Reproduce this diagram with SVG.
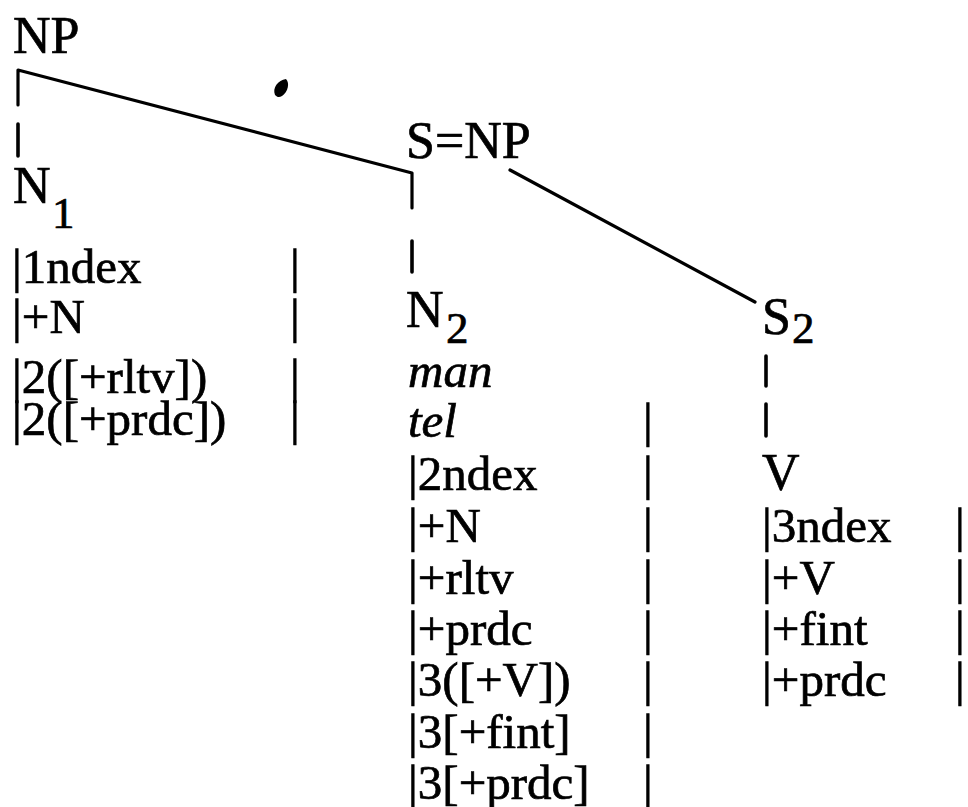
<svg xmlns="http://www.w3.org/2000/svg" width="968" height="807" viewBox="0 0 968 807">
<style>
text{font-family:"Liberation Serif","Times New Roman",serif;fill:#000;stroke:#000;stroke-width:0.7px;}
.t{font-size:49px;}
.h{font-size:52px;}
.s{font-size:45px;}
.i{font-style:italic;}
.ln{fill:none;stroke:#000;stroke-width:3.2;stroke-linecap:round;stroke-linejoin:round;}
.tk{stroke:#000;stroke-width:3.6;stroke-linecap:round;}
</style>
<rect width="968" height="807" fill="#fff"/>
<g id="connectors">
<path class="ln" d="M18,105 L18,70 L412,173 L412,208"/>
<line class="ln" x1="510" y1="170" x2="755" y2="302"/>
<line class="tk" x1="18" y1="124" x2="18" y2="156"/>
<line class="tk" x1="412" y1="241" x2="412" y2="272"/>
<line class="tk" x1="766" y1="356" x2="766" y2="386"/>
<line class="tk" x1="766" y1="404" x2="766" y2="436"/>
</g>
<path d="M275,95 C272,88 278,80 286,79 C290,83 288,92 282,96 C279,98 277,97 275,95 Z" fill="#000"/>
<g id="np">
<text class="h" x="13" y="53">NP</text>
</g>
<g id="s-np">
<text class="h" x="406" y="158">S=NP</text>
</g>
<g id="n1">
<text class="h" x="13" y="203">N</text>
<text class="s" x="52" y="228">1</text>
<text class="t" x="12" y="283">|1ndex</text>
<text class="t" x="12" y="333">|+N</text>
<text class="t" x="12" y="393">|2([+rltv])</text>
<text class="t" x="12" y="435">|2([+prdc])</text>
<text class="t" x="290" y="283">|</text>
<text class="t" x="290" y="333">|</text>
<text class="t" x="290" y="393">|</text>
<text class="t" x="290" y="435">|</text>
</g>
<g id="n2">
<text class="h" x="406" y="327">N</text>
<text class="s" x="446" y="343">2</text>
<text class="t i" x="408" y="387">man</text>
<text class="t i" x="408" y="437">tel</text>
<text class="t" x="408" y="490">|2ndex</text>
<text class="t" x="408" y="542">|+N</text>
<text class="t" x="408" y="594">|+rltv</text>
<text class="t" x="408" y="645">|+prdc</text>
<text class="t" x="408" y="696">|3([+V])</text>
<text class="t" x="408" y="748">|3[+fint]</text>
<text class="t" x="408" y="799">|3[+prdc]</text>
<text class="t" x="643" y="437">|</text>
<text class="t" x="643" y="490">|</text>
<text class="t" x="643" y="542">|</text>
<text class="t" x="643" y="594">|</text>
<text class="t" x="643" y="645">|</text>
<text class="t" x="643" y="696">|</text>
<text class="t" x="643" y="748">|</text>
<text class="t" x="643" y="799">|</text>
</g>
<g id="s2">
<text class="h" x="762" y="334">S</text>
<text class="s" x="792" y="343">2</text>
</g>
<g id="v">
<text class="h" x="762" y="490">V</text>
<text class="t" x="762" y="542">|3ndex</text>
<text class="t" x="762" y="594">|+V</text>
<text class="t" x="762" y="645">|+fint</text>
<text class="t" x="762" y="696">|+prdc</text>
<text class="t" x="955" y="542">|</text>
<text class="t" x="955" y="594">|</text>
<text class="t" x="955" y="645">|</text>
<text class="t" x="955" y="696">|</text>
</g>
</svg>
